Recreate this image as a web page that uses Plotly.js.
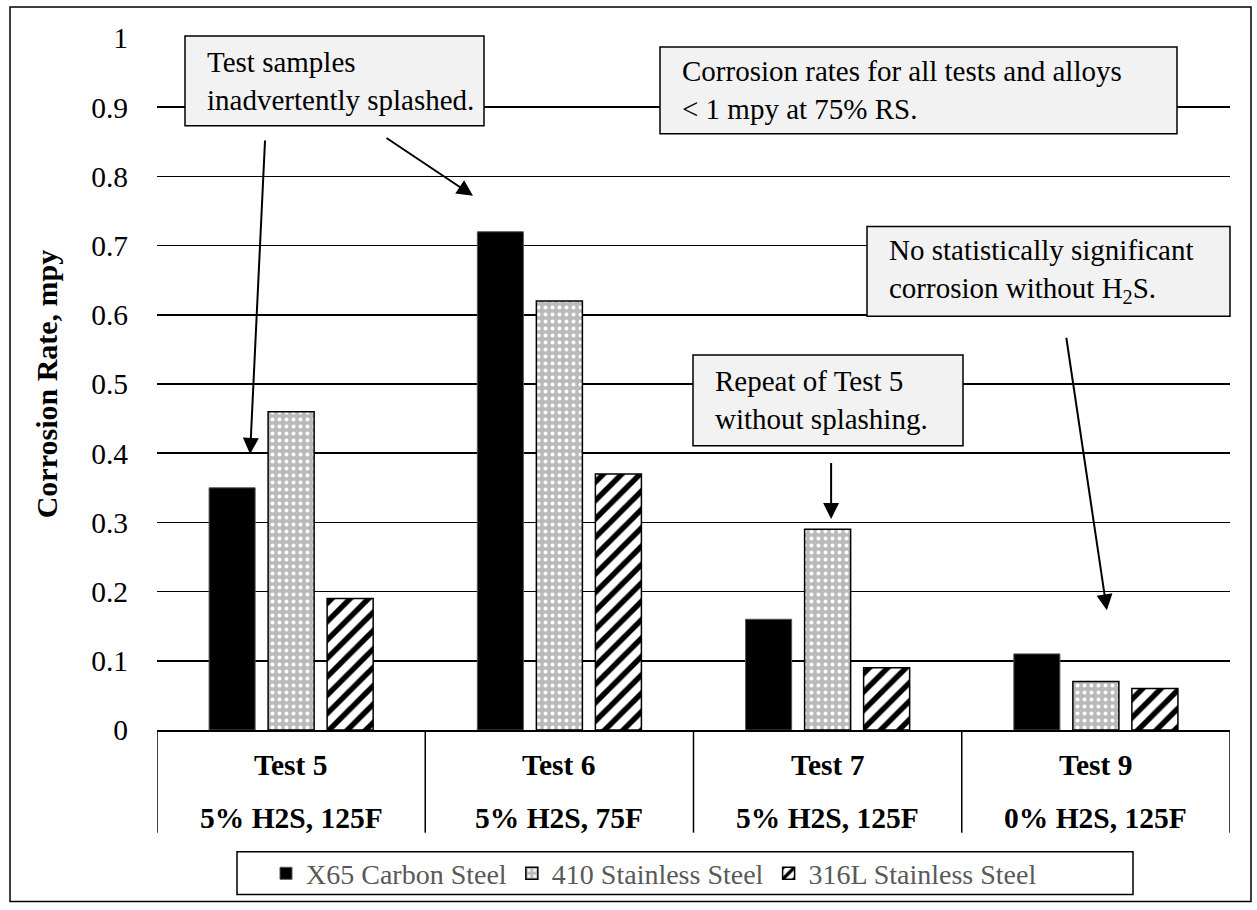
<!DOCTYPE html>
<html>
<head>
<meta charset="utf-8">
<script src="https://cdn.plot.ly/plotly-3.0.1.min.js"></script>
<style>html,body{margin:0;padding:0;background:#fff;}#chart{width:1257px;height:910px;}</style>
</head>
<body>
<div id="chart"></div>
<script>
// ---- data ----
const categories = ['Test 5', 'Test 6', 'Test 7', 'Test 9'];
const conditions = ['5% H2S, 125F', '5% H2S, 75F', '5% H2S, 125F', '0% H2S, 125F'];
const seriesNames = ['X65 Carbon Steel', '410 Stainless Steel', '316L Stainless Steel'];
const x65Values = [0.35, 0.72, 0.16, 0.11];
const ss410Values = [0.46, 0.62, 0.29, 0.07];
const ss316Values = [0.19, 0.37, 0.09, 0.06];
const yTickValues = [0, 0.1, 0.2, 0.3, 0.4, 0.5, 0.6, 0.7, 0.8, 0.9, 1];
const yTickLabels = ['0', '0.1', '0.2', '0.3', '0.4', '0.5', '0.6', '0.7', '0.8', '0.9', '1'];
const noteTexts = [
  'Test samples<br>inadvertently splashed.',
  'Corrosion rates for all tests and alloys<br>&lt; 1 mpy at 75% RS.',
  'No statistically significant<br>corrosion without H<sub>2</sub>S.',
  'Repeat of Test 5<br>without splashing.'
];

const FONT = 'Liberation Serif, Times New Roman, serif';

const traces = [
  {
    type: 'bar', name: seriesNames[0], x: categories, y: x65Values,
    marker: {color: '#000000', line: {color: '#555555', width: 1}}
  },
  {
    type: 'bar', name: seriesNames[1], x: categories, y: ss410Values,
    marker: {color: '#bababa', line: {color: '#000000', width: 1.5},
      pattern: {shape: '.', fgcolor: '#ffffff', bgcolor: '#bababa', size: 7, solidity: 0.25}}
  },
  {
    type: 'bar', name: seriesNames[2], x: categories, y: ss316Values,
    marker: {color: '#ffffff', line: {color: '#000000', width: 1.5},
      pattern: {shape: '/', fgcolor: '#000000', bgcolor: '#ffffff', size: 13, solidity: 0.42}}
  }
];

// helper: pixel -> paper
const L = 157, R = 1230, T = 38, B = 732;
const px = v => (v - L) / (R - L);
const py = v => (B - v) / (B - T);

const shapes = [];
// outer border
shapes.push({type: 'rect', xref: 'paper', yref: 'paper', x0: px(10), x1: px(1251), y0: py(904), y1: py(7),
  line: {color: '#000', width: 1.5}, fillcolor: 'rgba(0,0,0,0)', layer: 'below'});
// category table verticals
for (let i = 0; i <= categories.length; i++) {
  shapes.push({type: 'line', xref: 'x', yref: 'paper', x0: i - 0.5, x1: i - 0.5, y0: 0, y1: py(835),
    line: {color: '#000', width: 1.5}});
}
// note boxes
const boxes = [
  [185, 36, 484, 126],
  [660, 47, 1177, 134],
  [867, 227, 1230, 317],
  [693, 356, 963, 447]
];
const textLeft = [205, 680, 887, 713];
boxes.forEach(b => {
  shapes.push({type: 'rect', xref: 'paper', yref: 'paper', x0: px(b[0]), x1: px(b[2]), y0: py(b[3]), y1: py(b[1]),
    fillcolor: '#f2f2f2', line: {color: '#000', width: 1.5}, layer: 'above'});
});
// legend box
shapes.push({type: 'rect', xref: 'paper', yref: 'paper', x0: px(237), x1: px(1133), y0: py(897), y1: py(854),
  line: {color: '#000', width: 1.5}, fillcolor: 'rgba(0,0,0,0)'});

const annotations = [];
categories.forEach((c, i) => {
  annotations.push({xref: 'x', yref: 'paper', x: c, y: py(767), text: '<b>' + c + '</b>', showarrow: false,
    xanchor: 'center', yanchor: 'middle', font: {family: FONT, size: 29.5, color: '#000'}});
  annotations.push({xref: 'x', yref: 'paper', x: c, y: py(820), text: '<b>' + conditions[i] + '</b>', showarrow: false,
    xanchor: 'center', yanchor: 'middle', font: {family: FONT, size: 29.5, color: '#000'}});
});
noteTexts.forEach((t, i) => {
  const b = boxes[i];
  annotations.push({xref: 'paper', yref: 'paper', x: px(textLeft[i]), y: py((b[1] + b[3]) / 2), text: t,
    showarrow: false, xanchor: 'left', yanchor: 'middle', align: 'left',
    font: {family: FONT, size: 29, color: '#000'}});
});
// arrows (tip, tail) in axis units
const arrows = [
  [-0.153, 0.399, -0.097, 0.854],
  [0.678, 0.772, 0.350, 0.857],
  [2.013, 0.305, 2.013, 0.388],
  [3.041, 0.173, 2.889, 0.569]
];
arrows.forEach(a => {
  annotations.push({xref: 'x', yref: 'y', axref: 'x', ayref: 'y', x: a[0], y: a[1], ax: a[2], ay: a[3],
    text: '', showarrow: true, arrowhead: 2, arrowsize: 1.6, arrowwidth: 2, arrowcolor: '#000'});
});

const layout = {
  width: 1257, height: 910,
  margin: {l: L, r: 1257 - R, t: T, b: 910 - B, pad: 0},
  paper_bgcolor: '#fff', plot_bgcolor: '#fff',
  font: {family: FONT, size: 29, color: '#000'},
  barmode: 'group', bargap: 0.34, bargroupgap: 0.22,
  showlegend: true,
  legend: {orientation: 'h', x: px(266), xanchor: 'left', y: py(876), yanchor: 'middle',
    bgcolor: 'rgba(0,0,0,0)', borderwidth: 0, traceorder: 'normal',
    font: {family: FONT, size: 28, color: '#595959'}, itemwidth: 30},
  xaxis: {type: 'category', range: [-0.5, 3.5], showticklabels: false, ticks: '',
    showgrid: false, showline: true, linecolor: '#000', linewidth: 1.5, zeroline: false, fixedrange: true},
  yaxis: {range: [0, 1], tickvals: yTickValues, ticktext: yTickLabels, ticks: '',
    showgrid: true, gridcolor: '#000', gridwidth: 1.5, zeroline: false, showline: false,
    ticklabelstandoff: 28, tickfont: {family: FONT, size: 29.5, color: '#000'},
    title: {text: '<b>Corrosion Rate, mpy</b>', standoff: 24, font: {family: FONT, size: 30, color: '#000'}},
    automargin: false, fixedrange: true},
  shapes: shapes,
  annotations: annotations
};

Plotly.newPlot('chart', traces, layout, {displayModeBar: false, staticPlot: true});
</script>
</body>
</html>
